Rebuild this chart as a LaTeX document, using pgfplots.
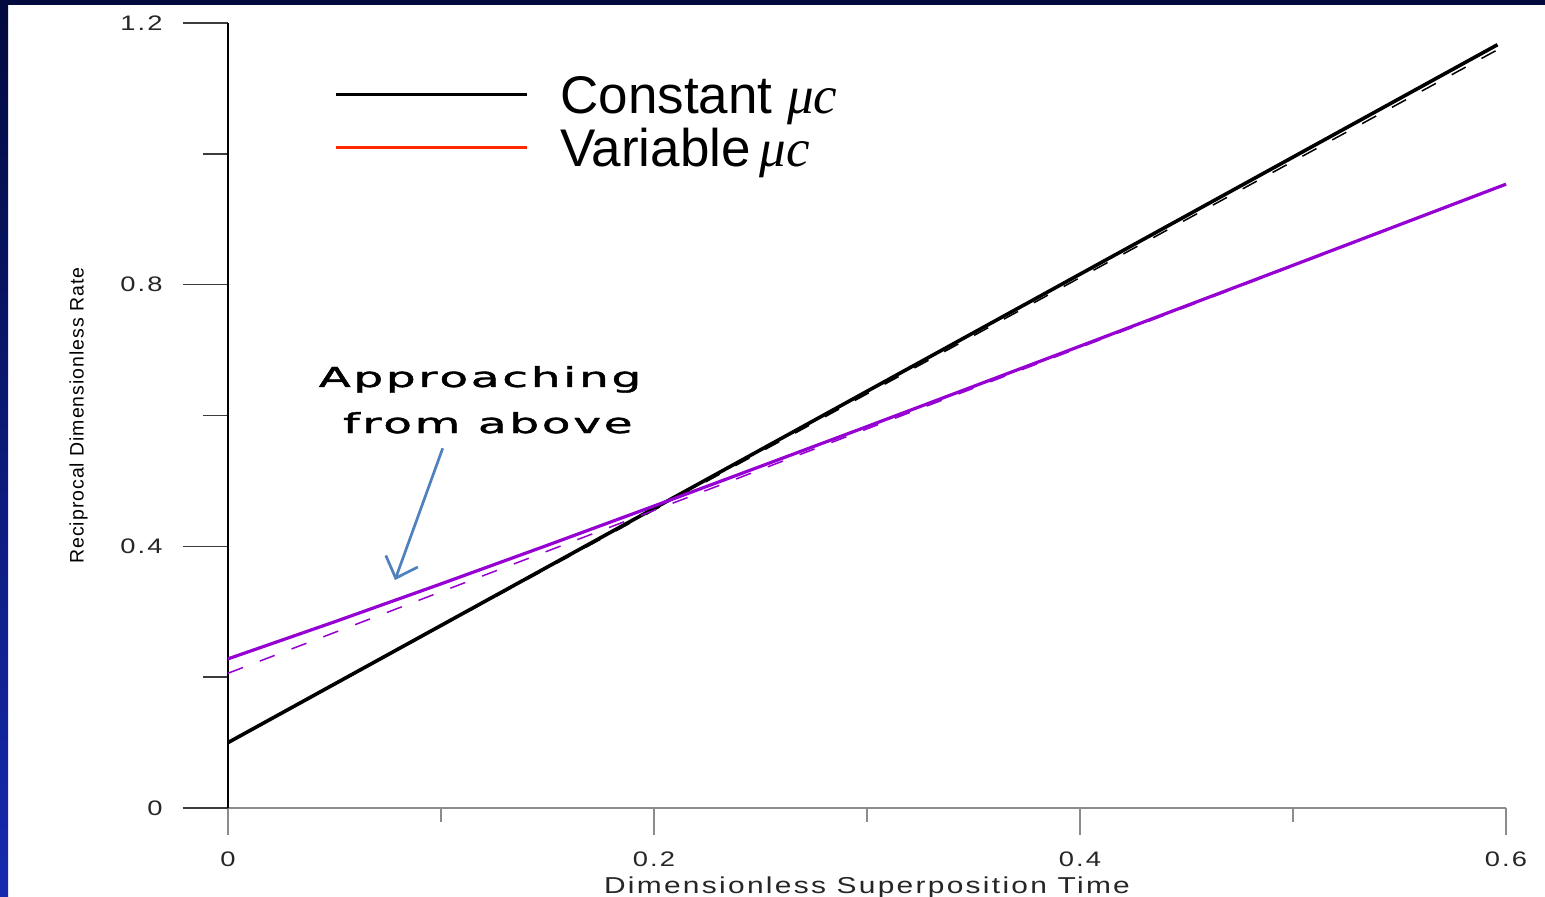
\documentclass[border=0pt]{standalone}
\usepackage{fontspec}
\usepackage{graphicx}
\usepackage{pgfplots}
\pgfplotsset{compat=1.18}
\usetikzlibrary{arrows.meta}
\setmainfont{Liberation Sans}
\newfontfamily\tickfont[FakeStretch=1.3,LetterSpace=10]{Liberation Sans}
\newfontfamily\ylabfont[LetterSpace=5]{Liberation Sans}
\newfontfamily\legfont{Liberation Sans}
\newfontfamily\mufont{Liberation Serif}
\newfontfamily\notefont[LetterSpace=6,FakeBold=1.2]{DejaVu Sans}
\newcommand\widenote[1]{\scalebox{1.7}[1]{\notefont\fontsize{13.75pt}{16pt}\selectfont #1}}

\definecolor{navytop}{RGB}{2,10,62}
\definecolor{bluebot}{RGB}{22,42,176}
\definecolor{axisgray}{RGB}{140,140,140}
\definecolor{ytickgray}{RGB}{60,60,60}
\definecolor{violetline}{RGB}{150,0,210}
\definecolor{legendred}{RGB}{255,40,0}
\definecolor{arrowblue}{RGB}{79,129,189}

% constant mu*c: straight line and its dashed reference
\pgfplotstableread{
x y
0 0.1
0.1 0.279
0.2 0.458
0.3 0.637
0.4 0.816
0.5 0.995
0.596 1.1668
}\constsolid
\pgfplotstableread{
x y
0 0.1
0.1 0.2777
0.2 0.4554
0.3 0.6331
0.4 0.8108
0.5 0.9885
0.6 1.1662
}\constdash
% variable mu*c: curve approaching its straight asymptote from above
\pgfplotstableread{
x y
0 0.228
0.05 0.2846
0.1 0.3426
0.15 0.4017
0.2 0.4616
0.25 0.5222
0.3 0.5831
0.35 0.6445
0.4 0.7060
0.45 0.7678
0.5 0.8296
0.55 0.8916
0.6 0.9536
}\varsolid
\pgfplotstableread{
x y
0 0.206
0.1 0.3305
0.2 0.455
0.3 0.5795
0.4 0.704
0.5 0.8285
0.6 0.953
}\vardash

\begin{document}
\begin{tikzpicture}
\useasboundingbox (0,0) rectangle (772.5pt,448pt);
\fill[white] (0,0) rectangle (772.5pt,448pt);
\shade[top color=navytop, bottom color=bluebot] (0,0) rectangle (4pt,448pt);
\fill[navytop] (0,445.5pt) rectangle (772.5pt,448pt);

\pgfplotsset{
  common/.style={
    at={(114pt,44pt)}, anchor=south west,
    scale only axis, width=639pt, height=392.5pt,
    xmin=0, xmax=0.6, ymin=0, ymax=1.2,
    tick align=outside,
  }
}

% horizontal axis
\begin{axis}[common,
  axis x line*=bottom, axis y line=none,
  xtick={0,0.2,0.4,0.6}, xticklabels={0,0.2,0.4,0.6},
  minor xtick={0.1,0.3,0.5}, ytick=\empty,
  major tick length=13.5pt, minor tick length=7pt,
  x axis line style={axisgray, line width=0.8pt},
  tick style={color=axisgray, line width=0.8pt},
  xticklabel style={font=\tickfont\fontsize{10.5pt}{12pt}\selectfont,
    text=black!85, inner sep=0pt, anchor=north, yshift=-8pt},
  xlabel={Dimensionless Superposition Time},
  xlabel style={font=\tickfont\fontsize{11.5pt}{13pt}\selectfont,
    text=black!85, inner sep=0pt, anchor=north,
    at={(axis description cs:0.5,-0.0866)}},
]
\end{axis}

% vertical axis, curves, legend and note
\begin{axis}[common,
  axis y line*=left, axis x line=none,
  ytick={0,0.4,0.8,1.2}, yticklabels={0,0.4,0.8,1.2},
  minor ytick={0.2,0.6,1.0}, xtick=\empty,
  major tick length=22.5pt, minor tick length=12.5pt,
  y axis line style={black, line width=1pt},
  tick style={color=ytickgray, line width=0.8pt},
  yticklabel style={font=\tickfont\fontsize{10.5pt}{12pt}\selectfont,
    text=black!85, inner sep=0pt, anchor=east, xshift=-10pt},
  ylabel={Reciprocal Dimensionless Rate},
  ylabel style={font=\ylabfont\fontsize{9.75pt}{11pt}\selectfont,
    text=black, inner sep=0pt, anchor=north, rotate=0,
    at={(axis description cs:-0.1244,0.5)}},
  clip=false,
  legend image code/.code={\draw[#1] (0pt,0pt) -- (95.5pt,0pt);},
  legend cell align=left,
  legend style={at={(axis description cs:0.0829,0.9427)}, anchor=north west,
    draw=none, fill=none, inner sep=0pt, row sep=0pt,
    font=\legfont\fontsize{26.5pt}{30pt}\selectfont,
    nodes={inner sep=0pt, text height=22.5pt, text depth=4pt},
    /tikz/every odd column/.append style={column sep=16pt}},
]
\addlegendimage{black, line width=1.5pt}
\addlegendentry{Constant {\mufont\itshape μc}}
\addlegendimage{legendred, line width=1.5pt}
\addlegendentry{Variable\,{\mufont\itshape μc}}

\addplot[forget plot, black, line width=0.75pt, dash pattern=on 8pt off 9pt] table {\constdash};
\addplot[forget plot, black, line width=1.8pt] table {\constsolid};
\addplot[forget plot, violetline, line width=0.75pt, dash pattern=on 8pt off 9pt] table {\vardash};
\addplot[forget plot, violetline, line width=1.6pt] table {\varsolid};

\node[anchor=base, inner sep=0pt]
  at (axis cs:0.1183,0.6436) {\widenote{Approaching}};
\node[anchor=base, inner sep=0pt]
  at (axis cs:0.1220,0.5732) {\widenote{from above}};
\draw[arrowblue, line width=1.35pt,
  -{Straight Barb[length=9pt, width=17pt, line width=1.35pt]}]
  (axis cs:0.1008,0.5499) -- (axis cs:0.0784,0.3485);
\end{axis}
\end{tikzpicture}
\end{document}
